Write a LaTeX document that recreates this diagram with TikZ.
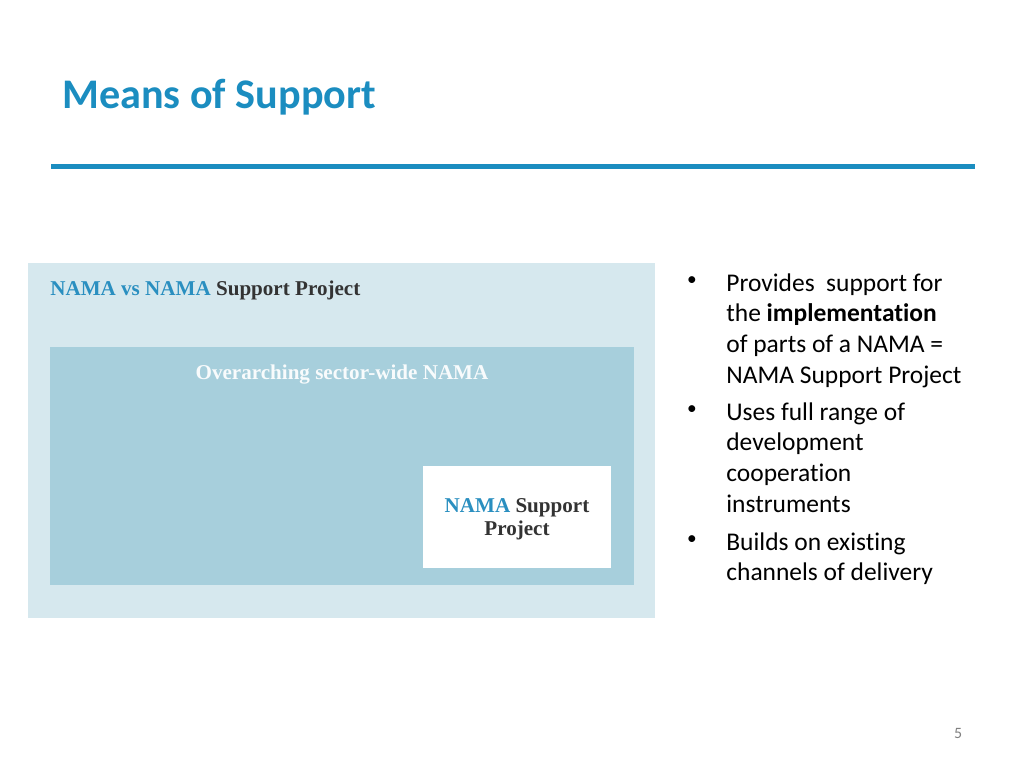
\documentclass[tikz,border=0pt]{standalone}
\usepackage{fontspec}
\setmainfont{Carlito}[RawFeature=-liga]
\newfontfamily\panelfont{Liberation Serif}
\usetikzlibrary{positioning}
\definecolor{titleblue}{HTML}{1B8DC0}
\definecolor{panelback}{HTML}{D6E8EE}
\definecolor{panelinner}{HTML}{A7CFDC}
\definecolor{namablue}{HTML}{2A8FC0}
\definecolor{textdark}{HTML}{333333}
\newlength\pxu
\setlength\pxu{0.02cm}
\tikzset{
  bullettext/.style={anchor=north west, inner sep=0pt, align=left,
    font=\fontsize{14.5}{17.6}\selectfont, text=black},
  dot/.style={anchor=north, inner sep=0pt, font=\fontsize{11}{17.6}\selectfont},
  paneltext/.style={inner sep=0pt, font=\panelfont\bfseries\fontsize{12}{14}\selectfont}
}
\begin{document}
\begin{tikzpicture}[x=0.02cm, y=-0.02cm]
\useasboundingbox[fill=white] (0,0) rectangle (1024,768);
% title and rule
\node[anchor=west, inner sep=0pt, text=titleblue, font=\bfseries\fontsize{24}{30}\selectfont] (title) at (62,97) {Means of Support};
\draw[titleblue, line width=5\pxu] (51,166) -- (975,166);
% picture panel
\fill[panelback] (28,263) rectangle (655,618);
\fill[panelinner] (50,347) rectangle (634,585);
\fill[white] (423,466) rectangle (611,568);
\node[paneltext, anchor=west] (head) at (50,290) {\textcolor{namablue}{NAMA vs NAMA} \textcolor{textdark}{Support Project}};
\node[paneltext, text=white!92!panelinner] (sector) at (342,375) {Overarching sector-wide NAMA};
\node[paneltext, align=center] (project) at (517,519)
  {\textcolor{namablue}{NAMA} \textcolor{textdark}{Support}\\[-1pt] \textcolor{textdark}{Project}};
% bullets
\node[bullettext] (b1) at (726,273) {Provides\ \ support for\\the \textbf{implementation}\\of parts of a NAMA =\\NAMA Support Project};
\node[bullettext] (b2) at (726,402) {Uses full range of\\development\\cooperation\\instruments};
\node[bullettext] (b3) at (726,532) {Builds on existing\\channels of delivery};
\foreach \b in {b1,b2,b3}
  \node[dot] at ([xshift=-34\pxu, yshift=-3\pxu]\b.north west) {\textbullet};
% page number
\node[text=gray, font=\fontsize{9}{10}\selectfont] (page) at (958,733) {5};
\end{tikzpicture}
\end{document}
